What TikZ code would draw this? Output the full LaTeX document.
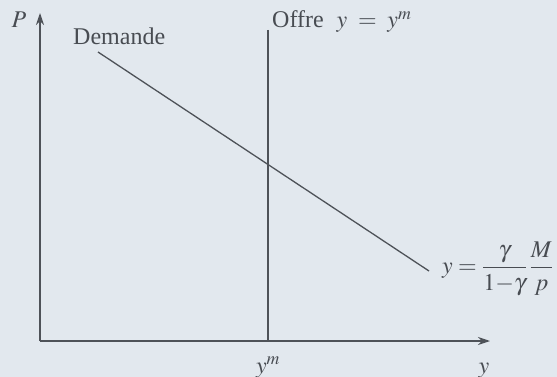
\documentclass[tikz,border=0pt]{standalone}
\usepackage{mathptmx}
\usepackage{fontspec}
\setmainfont{Liberation Serif}
\usetikzlibrary{arrows.meta}
\definecolor{bgc}{RGB}{226,232,238}
\definecolor{inkc}{RGB}{78,82,88}
\definecolor{txtc}{RGB}{72,76,82}
\tikzset{
  axisline/.style={draw=inkc, line width=1.2pt, -{Stealth[length=12pt,width=8pt]}},
  curve/.style={draw=inkc, line width=1.3pt},
  lbl/.style={text=txtc, inner sep=0pt, font=\fontsize{24}{28}\selectfont}
}
\begin{document}
\begin{tikzpicture}[x=1pt,y=-1pt]
\fill[bgc] (0,0) rectangle (557,377);
\useasboundingbox (0,0) rectangle (557,377);
\coordinate (O) at (40,341);
\coordinate (Ptop) at (40,13);
\coordinate (Yend) at (490,341);
\coordinate (Stop) at (268,30);
\coordinate (Sbot) at (268,341);
\coordinate (D1) at (98,52);
\coordinate (D2) at (429,271);
\draw[axisline] (O) -- (Ptop);
\draw[axisline] (O) -- (Yend);
\draw[curve] (Stop) -- (Sbot);
\draw[curve] (D1) -- (D2);
\node[lbl] (P) at (19,20) {$P$};
\node[lbl, anchor=base west] (dem) at (73,45) {Demande};
\node[lbl, anchor=base west] (off) at (272,28) {Offre\hspace{13pt}$y\;=\;y^m$};
\node[lbl, anchor=base] (ym) at (268,373) {$y^m$};
\node[lbl, anchor=base] (yl) at (484,373) {$y$};
\node[lbl, anchor=west] (eq) at (442,269) {$\displaystyle y=\frac{\gamma}{1{-}\gamma}\,\frac{M}{p}$};
\end{tikzpicture}
\end{document}
